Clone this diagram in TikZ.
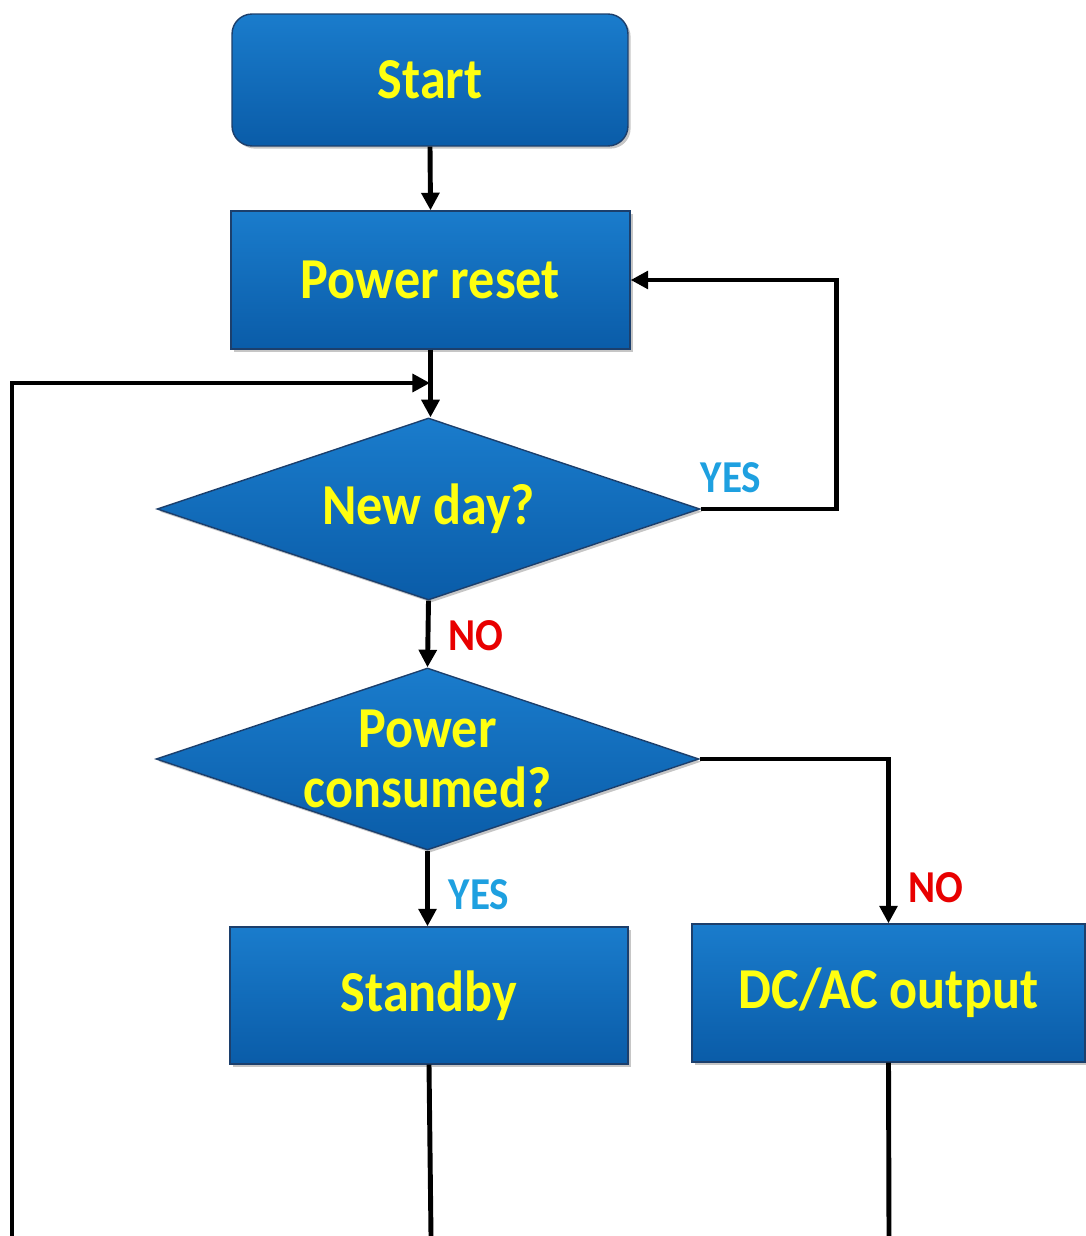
\documentclass[tikz,border=0pt]{standalone}
\usepackage{fontspec}
\setmainfont[FakeStretch=0.9]{Carlito}
\usetikzlibrary{shapes.geometric,arrows.meta,shadows,calc}

\definecolor{boxtop}{HTML}{1A7CCC}
\definecolor{boxbot}{HTML}{0A5CA8}
\definecolor{boxedge}{HTML}{1C3F6C}
\definecolor{txtyellow}{HTML}{FFFF10}
\definecolor{yesblue}{HTML}{1EA0E0}
\definecolor{nored}{HTML}{E80000}

\tikzset{
  x=0.02cm, y=-0.02cm,
  procbox/.style={rectangle, top color=boxtop, bottom color=boxbot,
    draw=boxedge, line width=0.8pt, inner sep=0pt,
    drop shadow={shadow xshift=1.5pt, shadow yshift=-1.5pt, opacity=0.45},
    font=\fontsize{33}{36}\selectfont\bfseries, text=txtyellow},
  startbox/.style={procbox, rounded corners=0.4cm},
  decision/.style={diamond, top color=boxtop, bottom color=boxbot,
    draw=boxedge, line width=0.8pt, inner sep=0pt,
    minimum width=10.86cm, minimum height=3.64cm,
    drop shadow={shadow xshift=1.5pt, shadow yshift=-1.5pt, opacity=0.45}},
  dtext/.style={font=\fontsize{33}{34}\selectfont\bfseries, text=txtyellow,
    align=center, inner sep=0pt},
  flow/.style={line width=2.8pt, black},
  arr/.style={flow, -{Triangle[length=10pt,width=10pt]}},
  yeslabel/.style={font=\fontsize{26}{28}\selectfont\bfseries, text=yesblue, inner sep=0pt},
  nolabel/.style={font=\fontsize{26}{28}\selectfont\bfseries, text=nored, inner sep=0pt}
}

\begin{document}
\begin{tikzpicture}
\useasboundingbox (0,0) rectangle (1085,1236);

% process boxes
\node[startbox, minimum width=7.92cm, minimum height=2.64cm] (start) at (430,80) {Start};
\node[procbox, minimum width=7.98cm, minimum height=2.76cm] (reset) at (430.5,280) {Power reset};
\node[decision, label={[dtext]center:New day?}] (newday) at (428.5,509) {};
\node[decision, label={[dtext]center:Power\\consumed?}] (consumed) at (427.5,759) {};
\node[procbox, minimum width=7.96cm, minimum height=2.74cm] (standby) at (429,995.5) {Standby};
\node[procbox, minimum width=7.86cm, minimum height=2.76cm] (dcac) at (888.5,993) {DC/AC output};

% branch labels
\node[yeslabel] (yes1) at (731,478) {YES};
\node[nolabel] (no1) at (476,636) {NO};
\node[yeslabel] (yes2) at (479,895) {YES};
\node[nolabel] (no2) at (936,888) {NO};

% loose ends at the lower edge and the join point of the return loop
\coordinate (loopin) at (430,383);
\coordinate (leftend) at (12,1236);
\coordinate (standbyend) at (431,1236);
\coordinate (dcacend) at (889,1236);

% connectors
\draw[arr] (start.south) -- (reset.north);
\draw[arr] (reset.south) -- (reset.south |- newday.north);
\draw[arr] (newday.east) -- ++(136,0) |- (reset.east);
\draw[arr] (newday.south) -- (consumed.north);
\draw[arr] (consumed.east) -| (dcac.north);
\draw[arr] (consumed.south) -- (consumed.south |- standby.north);
\draw[arr] (leftend) |- (loopin);
\draw[flow] (standby.south) -- (standbyend);
\draw[flow] (dcac.south) -- (dcacend);
\end{tikzpicture}
\end{document}
